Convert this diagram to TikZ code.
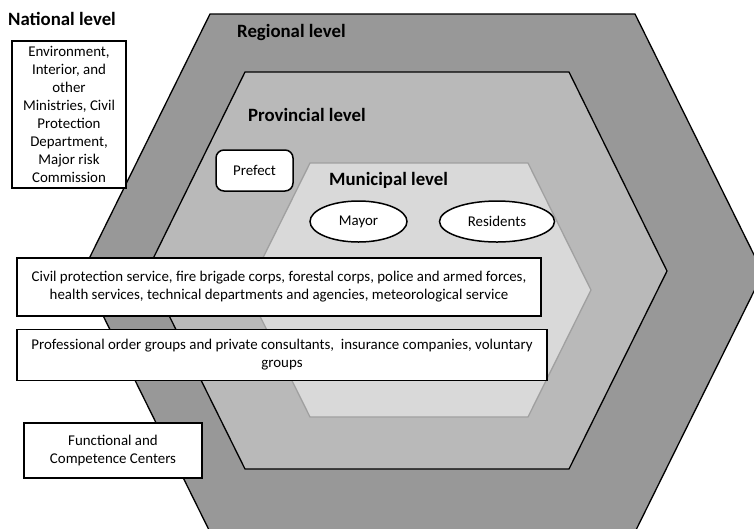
\documentclass[tikz,border=0pt]{standalone}
\usepackage{fontspec}
\setmainfont{Carlito}
\usetikzlibrary{shapes.geometric, positioning}
\definecolor{regiongray}{RGB}{152,152,152}
\definecolor{provgray}{RGB}{185,185,185}
\definecolor{munigray}{RGB}{217,217,217}
\definecolor{muniline}{RGB}{160,160,160}

\begin{document}
\begin{tikzpicture}[
    x=1pt, y=-1pt,
    levelhex/.style={line width=1.3pt, draw=black, line join=miter},
    levelname/.style={font=\fontsize{18.8}{22}\selectfont\bfseries, anchor=west, inner sep=0pt},
    infobox/.style={draw, line width=1.5pt, fill=white, align=center, inner sep=0pt,
        font=\fontsize{14.9}{18}\selectfont},
    actor/.style={ellipse, draw, line width=1.5pt, fill=white, inner sep=0pt,
        minimum height=41pt, font=\fontsize{14.9}{18}\selectfont}
]
\useasboundingbox (0,0) rectangle (754,528);
\clip (0,0) rectangle (754,528);
% nested levels
\draw[levelhex, fill=regiongray] (210,14) -- (635,14) -- (763,273) -- (635,532) -- (210,532) -- (82,273) -- cycle;
\draw[levelhex, fill=provgray] (245,72) -- (569,72) -- (667,271) -- (569,469) -- (245,469) -- (147,271) -- cycle;
\draw[levelhex, draw=muniline, fill=munigray] (310,163) -- (528,163) -- (591,290) -- (528,417) -- (310,417) -- (247,290) -- cycle;

\node[levelname] (national) at (8,19) {National level};
\node[levelname] (regional) at (237,32) {Regional level};
\node[levelname] (provincial) at (248,115) {Provincial level};
\node[levelname] (municipal) at (329,180) {Municipal level};

\node[infobox, minimum width=114pt, minimum height=147pt] (ministries) at (69,114.5)
    {Environment,\\Interior, and\\other\\Ministries, Civil\\Protection\\Department,\\Major risk\\Commission};
\node[infobox, rounded corners=8pt, minimum width=77pt, minimum height=41pt] (prefect) at (254.5,170.5) {Prefect};
\node[actor, minimum width=97pt] (mayor) at (358.5,221.5) {Mayor};
\node[actor, minimum width=115pt, right=31pt of mayor] (residents) {Residents};

\node[infobox, minimum width=524pt, minimum height=58pt] (services) at (279,287)
    {Civil protection service, fire brigade corps, forestal corps, police and armed forces,\\
     health services, technical departments and agencies, meteorological service};
\node[infobox, minimum width=530pt, minimum height=51pt, below right=12pt and 0pt of services.south west] (private)
    {Professional order groups and private consultants,~ insurance companies, voluntary\\groups};
\node[infobox, minimum width=178pt, minimum height=55pt] (centers) at (113,450.5)
    {Functional and\\Competence Centers};
\end{tikzpicture}
\end{document}
